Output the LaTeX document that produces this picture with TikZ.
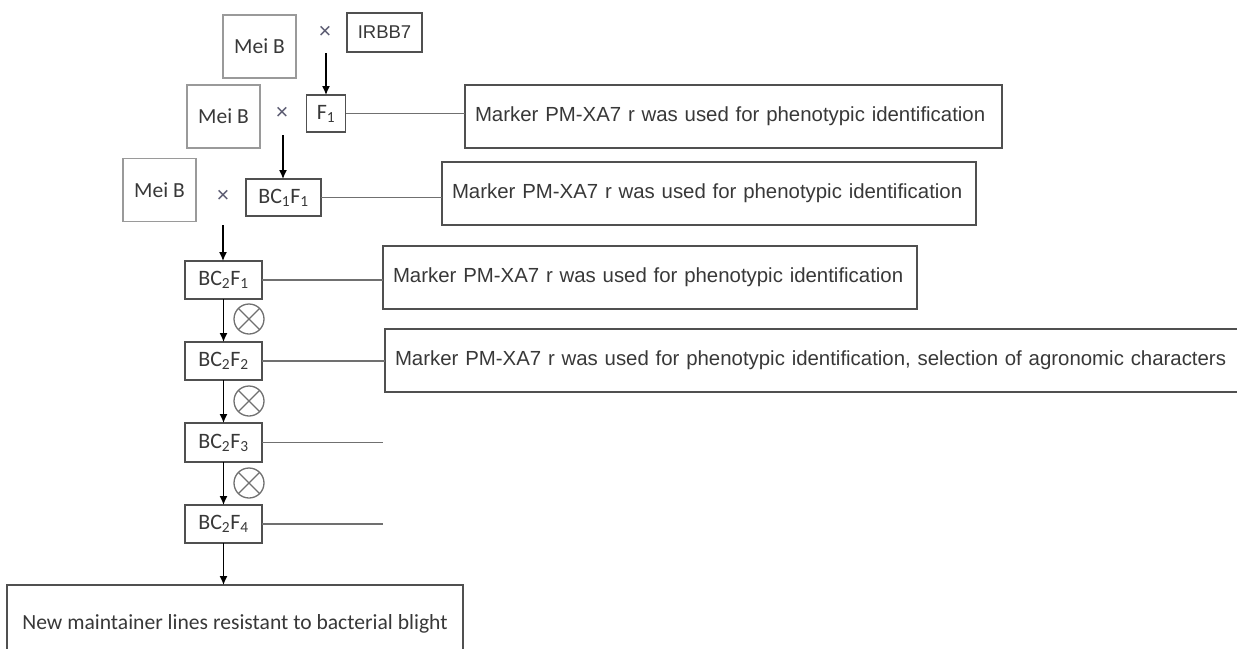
\documentclass[tikz,border=0pt]{standalone}
\usepackage{fontspec}
\setmainfont{Liberation Sans}
\newfontfamily\calfont{Carlito}
\usetikzlibrary{arrows.meta}
\definecolor{boxline}{HTML}{505050}
\definecolor{lightline}{HTML}{9A9A9A}
\definecolor{linkline}{HTML}{707070}
\definecolor{txt}{HTML}{383838}
\definecolor{crosscol}{HTML}{5A5A70}
\begin{document}
\begin{tikzpicture}[x=1pt,y=-1pt,
  every node/.style={inner sep=0pt, outer sep=0pt, text=txt},
  parent/.style={draw=lightline, line width=1.4pt, minimum width=73pt, minimum height=63pt,
    font=\calfont\fontsize{21.5}{24}\selectfont},
  gen/.style={draw=boxline, line width=1.4pt, minimum height=38pt,
    font=\calfont\fontsize{22}{24}\selectfont},
  marker/.style={draw=boxline, line width=1.6pt, minimum height=63pt, align=left,
    inner xsep=10pt, font=\fontsize{20.4}{24}\selectfont},
  crosssym/.style={text=crosscol, font=\fontsize{22}{22}\selectfont},
  arr/.style={draw=black, line width=1.4pt, -{Latex[length=9pt,width=8pt]}},
  link/.style={draw=linkline, line width=1.4pt},
  selfing/.style={draw=linkline, line width=1.3pt}]
\useasboundingbox (0,0) rectangle (1237,648);

% parents and crosses
\node[parent] (meiA) at (259.5,46.5) {Mei B};
\node[crosssym] (xA) at (325,32) {×};
\node[draw=boxline, line width=1.4pt, minimum width=75pt, minimum height=39pt,
      font=\fontsize{18.5}{22}\selectfont] (irbb) at (384.5,32.5) {IRBB7};
\node[gen, minimum width=39pt, minimum height=37pt] (f1) at (326,113.5) {F\textsubscript{1}};

\node[parent] (meiB) at (223.5,116.5) {Mei B};
\node[crosssym] (xB) at (282,113) {×};
\node[gen, minimum width=75pt, minimum height=37pt] (bc1) at (283.5,197.5) {BC\textsubscript{1}F\textsubscript{1}};

\node[parent] (meiC) at (159.5,190) {Mei B};
\node[crosssym] (xC) at (223,196) {×};

% backcross / selfing generations
\node[gen, minimum width=77pt] (g1) at (223.5,280) {BC\textsubscript{2}F\textsubscript{1}};
\node[gen, minimum width=77pt] (g2) at (223.5,361) {BC\textsubscript{2}F\textsubscript{2}};
\node[gen, minimum width=77pt, minimum height=39pt] (g3) at (223.5,442.5) {BC\textsubscript{2}F\textsubscript{3}};
\node[gen, minimum width=77pt] (g4) at (223.5,524) {BC\textsubscript{2}F\textsubscript{4}};

\node[draw=boxline, line width=1.5pt, minimum width=456pt, minimum height=77pt,
      font=\calfont\fontsize{21.6}{26}\selectfont] (final) at (235,623.5)
      {New maintainer lines resistant to bacterial blight};

% marker-assisted selection notes
\node[marker, minimum width=537pt, text width=517pt] (mA) at (733.5,116.5)
  {\mbox{Marker PM-XA7 r was used for phenotypic identification}};
\node[marker, minimum width=534pt, text width=514pt] (mB) at (709,193.5)
  {\mbox{Marker PM-XA7 r was used for phenotypic identification}};
\node[marker, minimum width=534pt, text width=514pt] (mC) at (650,277.5)
  {\mbox{Marker PM-XA7 r was used for phenotypic identification}};
\node[marker, minimum width=862pt, text width=842pt] (mD) at (816,360.5)
  {\mbox{Marker PM-XA7 r was used for phenotypic identification, selection of agronomic characters}};

% cross arrows
\coordinate (sA) at (326,53);
\coordinate (sB) at (283,135);
\coordinate (sC) at (223,225);
\draw[arr] (sA) -- (f1.north);
\draw[arr] (sB) -- (sB |- bc1.north);
\draw[arr] (sC) -- (sC |- g1.north);
\draw[arr] (g1.south) -- (g2.north);
\draw[arr] (g2.south) -- (g3.north);
\draw[arr] (g3.south) -- (g4.north);
\draw[arr] (g4.south) -- (g4.south |- final.north);

% selfing symbols
\foreach \yy/\nm in {319/s1,401/s2,483/s3}{
  \node[selfing, circle, minimum size=30pt] (\nm) at (249,\yy) {};
  \draw[selfing] (\nm.north east) -- (\nm.south west) (\nm.north west) -- (\nm.south east);
}

% links to the marker notes
\draw[link] (f1.east) -- (f1.east -| mA.west);
\draw[link] (bc1.east) -- (bc1.east -| mB.west);
\draw[link] (g1.east) -- (g1.east -| mC.west);
\draw[link] (g2.east) -- (g2.east -| mD.west);
\coordinate (e3) at (383,442.5);
\coordinate (e4) at (383,524);
\draw[link] (g3.east) -- (e3);
\draw[link] (g4.east) -- (e4);
\end{tikzpicture}
\end{document}
